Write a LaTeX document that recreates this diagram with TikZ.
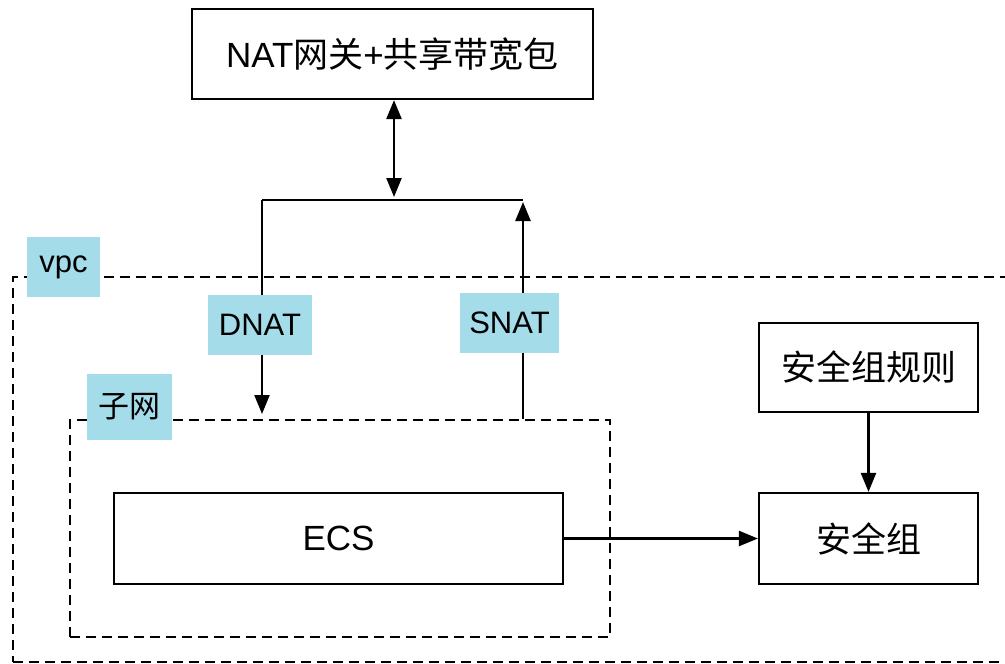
\documentclass[tikz,border=0pt]{standalone}
\usepackage{fontspec}
\setmainfont{Liberation Sans}
\newfontfamily\cjk{Noto Sans CJK SC}
\usetikzlibrary{arrows.meta}
\definecolor{tagblue}{RGB}{164,220,234}
\begin{document}
\begin{tikzpicture}[x=1pt,y=-1pt,
  box/.style={draw=black,line width=2.2pt,fill=white,inner sep=0pt,
    font=\fontsize{35}{40}\selectfont},
  tag/.style={fill=tagblue,inner sep=0pt,font=\fontsize{31}{36}\selectfont},
  zone/.style={draw=black,line width=2pt,dash pattern=on 10pt off 6pt,inner sep=0pt},
  wire/.style={line width=2.4pt},
  tip/.style={-{Triangle[length=19pt,width=15pt]}}]
\useasboundingbox (0,0) rectangle (1005,664);

% network zones
\node[zone,minimum width=1010pt,minimum height=385pt] (vpcbox) at (518,469.5) {};
\node[zone,minimum width=540pt,minimum height=217pt] (subnet) at (340,528.5) {};

% boxes
\node[box,minimum width=401pt,minimum height=90pt] (nat) at (392.5,54) {NAT{\cjk 网关}+{\cjk 共享带宽包}};
\node[box,minimum width=449pt,minimum height=91pt] (ecs) at (338.5,538.5) {ECS};
\node[box,minimum width=219pt,minimum height=89pt] (rule) at (868.5,367.5) {\cjk 安全组规则};
\node[box,minimum width=219pt,minimum height=91pt] (sg) at (868.5,538.5) {\cjk 安全组};

% junction points of the NAT bus
\coordinate (hub) at (394,197);
\coordinate (dleft) at (262,200);
\coordinate (sright) at (523,200);
\coordinate (dend) at (262,414);
\coordinate (send) at (523,202);

% connectors
\draw[wire,{Triangle[length=19pt,width=15pt]}-{Triangle[length=19pt,width=15pt]}] (nat.south -| hub) -- (hub);
\draw[wire] (dleft) -- (sright);
\draw[wire,tip] (dleft) -- (dend);
\draw[wire,tip] (subnet.north -| send) -- (send);
\draw[wire,tip] (ecs.east) -- (sg.west);
\draw[wire,tip] (rule.south) -- (sg.north);

% tags
\node[tag,minimum width=73pt,minimum height=60pt] (vpctag) at (63.5,267) {vpc};
\node[tag,minimum width=85pt,minimum height=66pt] (subtag) at (129.5,407) {\cjk 子网};
\node[tag,minimum width=104pt,minimum height=60pt] (dnat) at (260,325) {DNAT};
\node[tag,minimum width=99pt,minimum height=60pt] (snat) at (509.5,323) {SNAT};
\end{tikzpicture}
\end{document}
